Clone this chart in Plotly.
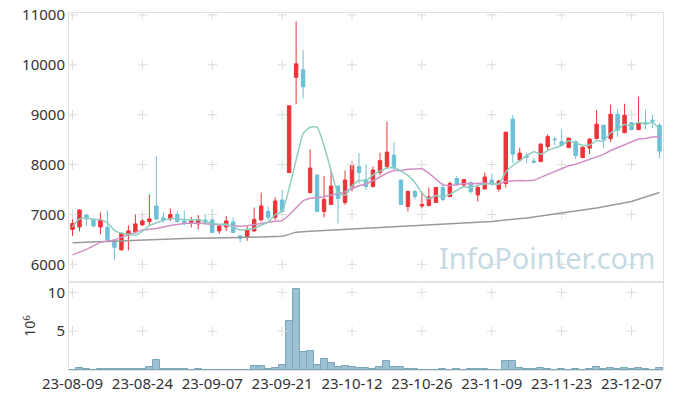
import plotly.graph_objects as go

# ---------------- data ----------------
dates = [
    "23-08-09", "23-08-10", "23-08-11", "23-08-14", "23-08-16", "23-08-17", "23-08-18",
    "23-08-21", "23-08-22", "23-08-23", "23-08-24", "23-08-25", "23-08-28", "23-08-29",
    "23-08-30", "23-08-31", "23-09-01", "23-09-04", "23-09-05", "23-09-06", "23-09-07",
    "23-09-08", "23-09-11", "23-09-12", "23-09-13", "23-09-14", "23-09-15", "23-09-18",
    "23-09-19", "23-09-20", "23-09-21", "23-09-22", "23-09-25", "23-09-26", "23-09-27",
    "23-10-04", "23-10-05", "23-10-06", "23-10-10", "23-10-11", "23-10-12", "23-10-13",
    "23-10-16", "23-10-17", "23-10-18", "23-10-19", "23-10-20", "23-10-23", "23-10-24",
    "23-10-25", "23-10-26", "23-10-27", "23-10-30", "23-10-31", "23-11-01", "23-11-02",
    "23-11-03", "23-11-06", "23-11-07", "23-11-08", "23-11-09", "23-11-10", "23-11-13",
    "23-11-14", "23-11-15", "23-11-16", "23-11-17", "23-11-20", "23-11-21", "23-11-22",
    "23-11-23", "23-11-24", "23-11-27", "23-11-28", "23-11-29", "23-11-30", "23-12-01",
    "23-12-04", "23-12-05", "23-12-06", "23-12-07", "23-12-08", "23-12-11", "23-12-12",
    "23-12-13",
]

open_ = [6700, 6750, 6990, 6890, 6750, 6740, 6480, 6290, 6590, 6650,
         6790, 6860, 7170, 6930, 6910, 7000, 6870, 6840, 6810, 6890,
         6890, 6670, 6750, 6850, 6570, 6550, 6670, 6890, 7060, 6940,
         7290, 7840, 9750, 9900, 7440, 7790, 7060, 7200, 7570, 7240,
         7560, 7960, 7700, 7560, 7840, 7960, 8190, 7690, 7160, 7460,
         7170, 7180, 7240, 7540, 7360, 7720, 7590, 7640, 7390, 7510,
         7690, 7510, 7620, 8910, 8090, 8170, 8070, 8060, 8360, 8510,
         8460, 8340, 8460, 8140, 8330, 8520, 8790, 8520, 9010, 8640,
         8840, 8700, 8840, 8890, 8790]
high = [6940, 7100, 7010, 6920, 7040, 7080, 6500, 6640, 6780, 7000,
        7020, 7400, 8170, 7040, 7120, 7080, 7080, 6950, 6990, 7010,
        7100, 6790, 6970, 6940, 6590, 6790, 7140, 7440, 7160, 7340,
        7490, 9180, 10870, 10300, 8310, 7800, 7770, 7900, 7580, 7880,
        8060, 8230, 8010, 7960, 8240, 8860, 8450, 7690, 7480, 7490,
        7460, 7540, 7540, 7630, 7660, 7770, 7710, 7660, 7570, 7840,
        7820, 7690, 8660, 8990, 8340, 8240, 8130, 8430, 8610, 8560,
        8710, 8540, 8490, 8360, 8530, 9100, 8800, 9200, 9100, 9220,
        8850, 9360, 9100, 9000, 8830]
low = [6570, 6660, 6770, 6740, 6600, 6470, 6080, 6270, 6280, 6620,
       6770, 6770, 6890, 6830, 6870, 6830, 6790, 6740, 6700, 6790,
       6630, 6610, 6670, 6630, 6440, 6470, 6650, 6860, 6880, 6890,
       7030, 7830, 9210, 9330, 7420, 7050, 6940, 7190, 6820, 7190,
       7460, 7620, 7490, 7540, 7790, 7930, 7880, 7190, 7060, 7300,
       7120, 7160, 7240, 7270, 7340, 7570, 7560, 7410, 7260, 7510,
       7570, 7460, 7540, 8030, 8060, 8030, 8020, 8050, 8270, 8390,
       8370, 8330, 8110, 8130, 8210, 8510, 8330, 8450, 8560, 8630,
       8690, 8690, 8710, 8730, 8130]
close = [6820, 7090, 6910, 6770, 6890, 6490, 6340, 6620, 6670, 6810,
         6870, 6910, 6910, 6890, 7000, 6860, 6830, 6870, 6900, 6840,
         6640, 6770, 6870, 6640, 6520, 6690, 6900, 7170, 6940, 7270,
         7060, 9180, 10020, 9560, 7930, 7060, 7300, 7570, 7320, 7690,
         7980, 7840, 7560, 7890, 8080, 8250, 7930, 7200, 7460, 7360,
         7200, 7350, 7540, 7300, 7620, 7610, 7700, 7460, 7540, 7750,
         7630, 7670, 8650, 8210, 8230, 8150, 8050, 8410, 8560, 8500,
         8390, 8530, 8180, 8350, 8510, 8810, 8510, 9010, 8690, 8990,
         8700, 8840, 8830, 8870, 8270]

# volume in millions of shares
volume_m = [0.05, 0.26, 0.13, 0.03, 0.13, 0.13, 0.13, 0.13, 0.13, 0.13,
            0.13, 0.39, 1.24, 0.13, 0.13, 0.13, 0.13, 0.03, 0.13, 0.03,
            0.03, 0.03, 0.03, 0.03, 0.03, 0.03, 0.52, 0.52, 0.13, 0.26,
            0.64, 6.31, 10.43, 2.27, 2.45, 0.64, 1.42, 0.86, 0.39, 0.52,
            0.39, 0.26, 0.21, 0.09, 0.34, 1.12, 0.34, 0.34, 0.09, 0.09,
            0.03, 0.03, 0.03, 0.09, 0.03, 0.09, 0.03, 0.09, 0.09, 0.09,
            0.03, 0.03, 1.12, 1.12, 0.21, 0.09, 0.09, 0.21, 0.09, 0.03,
            0.09, 0.03, 0.09, 0.03, 0.09, 0.34, 0.09, 0.21, 0.09, 0.21,
            0.09, 0.21, 0.09, 0.03, 0.21]

# moving-average values before the window is full
ma5_head = [6750, 6910, 6930, 6900]                       # indices 0..3
ma20_head_idx = [0, 2, 4, 6, 8, 10, 12, 14, 16, 18]
ma20_head_val = [6190, 6300, 6440, 6490, 6590, 6690, 6720, 6780, 6820, 6830]
# long moving average (gray), read at sample candles
ma_long_idx = [0, 8, 16, 24, 29, 30, 31, 32, 34, 38, 45, 50, 55, 60, 65, 70, 75, 80, 84]
ma_long_val = [6430, 6475, 6515, 6535, 6560, 6565, 6600, 6645, 6665, 6695,
               6760, 6790, 6820, 6860, 6930, 7030, 7130, 7260, 7440]

price_ticks = [6000, 7000, 8000, 9000, 10000, 11000]
vol_ticks = [5, 10]
x_tick_labels = dates[0::10]

# ---------------- derived series ----------------
def sma(vals, n):
    return [sum(vals[i - n + 1:i + 1]) / n for i in range(n - 1, len(vals))]

ma5 = ma5_head + sma(close, 5)
ma20_x = [dates[i] for i in ma20_head_idx] + dates[19:]
ma20_y = ma20_head_val + sma(close, 20)
ma_long_x = [dates[i] for i in ma_long_idx]

RED = "#ec3338"
BLUE = "#6cc0d8"
FONT = "Noto Sans"

fig = go.Figure()

# grid crosses (price panel)
gx, gy = [], []
for t in x_tick_labels:
    for p in price_ticks:
        gx.append(t)
        gy.append(p)
fig.add_trace(go.Scatter(x=gx, y=gy, mode="markers", xaxis="x", yaxis="y",
                         marker=dict(symbol="cross-thin", size=7,
                                     line=dict(color="#dcdcdc", width=1)),
                         hoverinfo="skip", showlegend=False))
# grid crosses (volume panel)
vx, vy = [], []
for t in x_tick_labels:
    for v in vol_ticks:
        vx.append(t)
        vy.append(v)
fig.add_trace(go.Scatter(x=vx, y=vy, mode="markers", xaxis="x2", yaxis="y2",
                         marker=dict(symbol="cross-thin", size=7,
                                     line=dict(color="#dcdcdc", width=1)),
                         hoverinfo="skip", showlegend=False))

fig.add_trace(go.Candlestick(
    x=dates, open=open_, high=high, low=low, close=close,
    xaxis="x", yaxis="y",
    increasing=dict(line=dict(color=RED, width=1), fillcolor=RED),
    decreasing=dict(line=dict(color=BLUE, width=1), fillcolor=BLUE),
    whiskerwidth=0, showlegend=False))

fig.add_trace(go.Scatter(x=ma_long_x, y=ma_long_val, mode="lines", xaxis="x", yaxis="y",
                         line=dict(color="#9a9a9a", width=1.5), showlegend=False))
fig.add_trace(go.Scatter(x=ma20_x, y=ma20_y, mode="lines", xaxis="x", yaxis="y",
                         line=dict(color="#d18fc6", width=1.5), showlegend=False))
fig.add_trace(go.Scatter(x=dates, y=ma5, mode="lines", xaxis="x", yaxis="y",
                         line=dict(color="#8ccfc1", width=1.5, shape="spline", smoothing=0.6),
                         showlegend=False))

fig.add_trace(go.Bar(x=dates, y=volume_m, xaxis="x2", yaxis="y2",
                     marker=dict(color="#9cc1d2", line=dict(color="#7ba7bb", width=1)),
                     showlegend=False))

vol_frac = 88 / 357
axis_line = "#e2e2e2"
xcommon = dict(type="category", categoryorder="array", categoryarray=dates,
               range=[-0.5, len(dates) - 0.5], showgrid=False, zeroline=False,
               showline=True, linecolor=axis_line, mirror=True, ticks="",
               automargin=False)
fig.update_layout(
    width=673, height=399,
    margin=dict(l=69, r=10, t=13, b=29, autoexpand=False),
    paper_bgcolor="white", plot_bgcolor="white",
    font=dict(family=FONT, size=15, color="#333333"),
    bargap=0, boxgap=0.3,
    xaxis=dict(domain=[0, 1], anchor="y", showticklabels=False,
               rangeslider=dict(visible=False), matches="x2", **xcommon),
    yaxis=dict(domain=[vol_frac, 1], anchor="x", range=[5645, 11040],
               tickvals=price_ticks, ticktext=[str(v) for v in price_ticks],
               showgrid=False, zeroline=False, ticks="", automargin=False,
               showline=True, linecolor=axis_line, mirror=True),
    xaxis2=dict(domain=[0, 1], anchor="y2",
                tickvals=x_tick_labels, ticktext=x_tick_labels, tickangle=0, **xcommon),
    yaxis2=dict(domain=[0, vol_frac], anchor="x2", range=[0, 11.33],
                tickvals=vol_ticks, ticktext=[str(v) for v in vol_ticks],
                showgrid=False, zeroline=False, ticks="", automargin=False,
                showline=True, linecolor=axis_line, mirror=True,
                title=dict(text="10<sup>6</sup>", standoff=8, font=dict(size=14))),
    annotations=[dict(text="InfoPointer.com", xref="paper", yref="paper",
                      x=0.805, y=0.3165, xanchor="center", yanchor="middle",
                      showarrow=False,
                      font=dict(family=FONT, size=29, color="#c6dae4"))],
)

fig.write_html("out.html", config={"displayModeBar": False},
               post_script="document.body.style.margin='0';document.body.style.padding='0';")
